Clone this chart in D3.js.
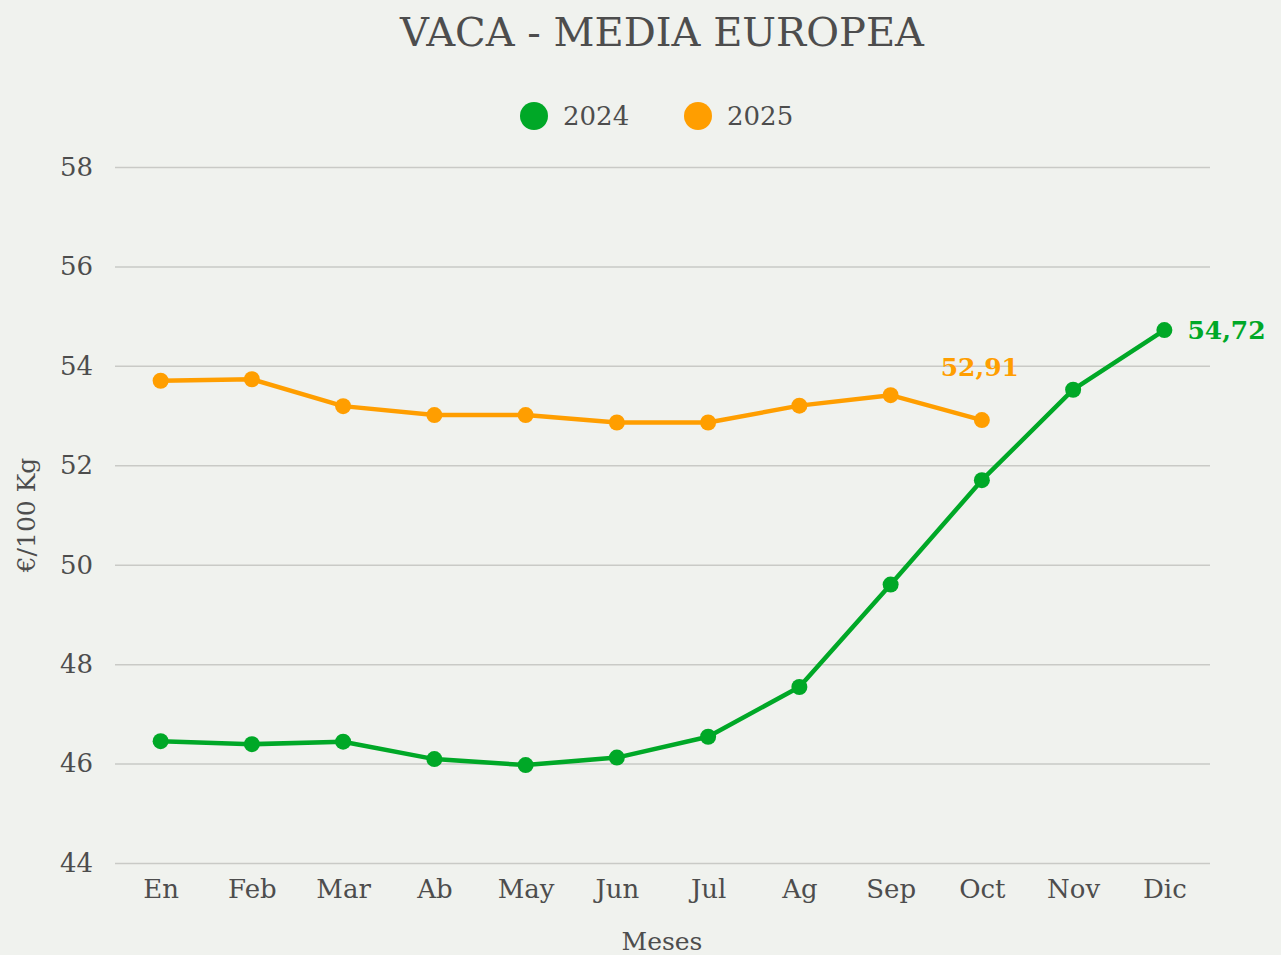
<!DOCTYPE html>
<html>
<head>
<meta charset="utf-8">
<script src="https://cdn.jsdelivr.net/npm/d3@7"></script>
<style>
  body { margin: 0; background: #f0f2ee; }
  text { font-family: "DejaVu Serif", serif; fill: #4d4d4d; }
</style>
</head>
<body>
<div id="chart"></div>
<script>
let width = 1281, height = 955;
let margin = {top: 167, right: 71, bottom: 92, left: 115};

// Data
const months = ["En", "Feb", "Mar", "Ab", "May", "Jun", "Jul", "Ag", "Sep", "Oct", "Nov", "Dic"];
const values2024 = [46.45, 46.39, 46.44, 46.09, 45.97, 46.12, 46.54, 47.54, 49.6, 51.7, 53.52, 54.72];
const values2025 = [53.7, 53.73, 53.19, 53.01, 53.01, 52.86, 52.86, 53.2, 53.41, 52.91];
const yTicks = [44, 46, 48, 50, 52, 54, 56, 58];
const seriesNames = ["2024", "2025"];
const colors = ["#00a827", "#ff9e00"];
const lastLabels = ["54,72", "52,91"];

const svg = d3.select("#chart")
        .append("svg")
        .attr("width", width)
        .attr("height", height);

svg.append("rect").attr("width", width).attr("height", height).attr("fill", "#f0f2ee");

const x = d3.scalePoint()
        .domain(months)
        .range([margin.left, width - margin.right])
        .padding(0.5);

const y = d3.scaleLinear()
        .domain([44, 58])
        .range([height - margin.bottom, margin.top]);

// gridlines + y labels
const yAxis = svg.append("g")
        .attr("transform", "translate(" + margin.left + ",0)")
        .call(d3.axisLeft(y).tickValues(yTicks).tickSize(-(width - margin.left - margin.right)).tickPadding(22));
yAxis.select(".domain").remove();
yAxis.selectAll(".tick line").attr("stroke", "#c9cac6").attr("stroke-width", 1.5);
yAxis.selectAll(".tick text").attr("font-size", 26).attr("fill", "#4d4d4d").style("font-family", "DejaVu Serif");

const xAxis = svg.append("g")
        .attr("transform", "translate(0," + (height - margin.bottom) + ")")
        .call(d3.axisBottom(x).tickSize(0).tickPadding(17));
xAxis.select(".domain").remove();
xAxis.selectAll(".tick text").attr("font-size", 26).attr("fill", "#4d4d4d").style("font-family", "DejaVu Serif");

// title
svg.append("text")
        .attr("x", 662).attr("y", 46)
        .attr("text-anchor", "middle")
        .attr("font-size", 40)
        .text("VACA - MEDIA EUROPEA");

// axis titles
svg.append("text")
        .attr("x", 662).attr("y", 950)
        .attr("text-anchor", "middle")
        .attr("font-size", 25)
        .text("Meses");

svg.append("text")
        .attr("transform", "translate(35,515) rotate(-90)")
        .attr("text-anchor", "middle")
        .attr("font-size", 25)
        .text("€/100 Kg");

// legend
const legend = svg.selectAll(".legend")
        .data(seriesNames)
        .enter()
            .append("g")
            .attr("class", "legend")
            .attr("transform", (d, i) => "translate(" + (534 + i * 164) + ",116)");
legend.append("circle").attr("r", 14).attr("fill", (d, i) => colors[i]);
legend.append("text")
        .attr("x", 29).attr("dy", ".35em")
        .attr("font-size", 26)
        .text(d => d);

// lines
const line = d3.line()
        .x((d, i) => x(months[i]))
        .y(d => y(d));

[values2024, values2025].forEach((vals, s) => {
    svg.append("path")
        .datum(vals)
        .attr("fill", "none")
        .attr("stroke", colors[s])
        .attr("stroke-width", 4.5)
        .attr("stroke-linejoin", "round")
        .attr("d", line);

    svg.selectAll(".dot" + s)
        .data(vals)
        .enter()
            .append("circle")
            .attr("cx", (d, i) => x(months[i]))
            .attr("cy", d => y(d))
            .attr("r", 8)
            .attr("fill", colors[s]);
});

// end labels
svg.append("text")
        .attr("x", x(months[values2024.length - 1]) + 23)
        .attr("y", y(values2024[values2024.length - 1]))
        .attr("dy", ".35em")
        .attr("font-size", 25)
        .attr("font-weight", "bold")
        .style("fill", colors[0])
        .text(lastLabels[0]);

svg.append("text")
        .attr("x", x(months[values2025.length - 1]) - 2)
        .attr("y", y(values2025[values2025.length - 1]) - 53)
        .attr("dy", ".35em")
        .attr("text-anchor", "middle")
        .attr("font-size", 25)
        .attr("font-weight", "bold")
        .style("fill", colors[1])
        .text(lastLabels[1]);
</script>
</body>
</html>
